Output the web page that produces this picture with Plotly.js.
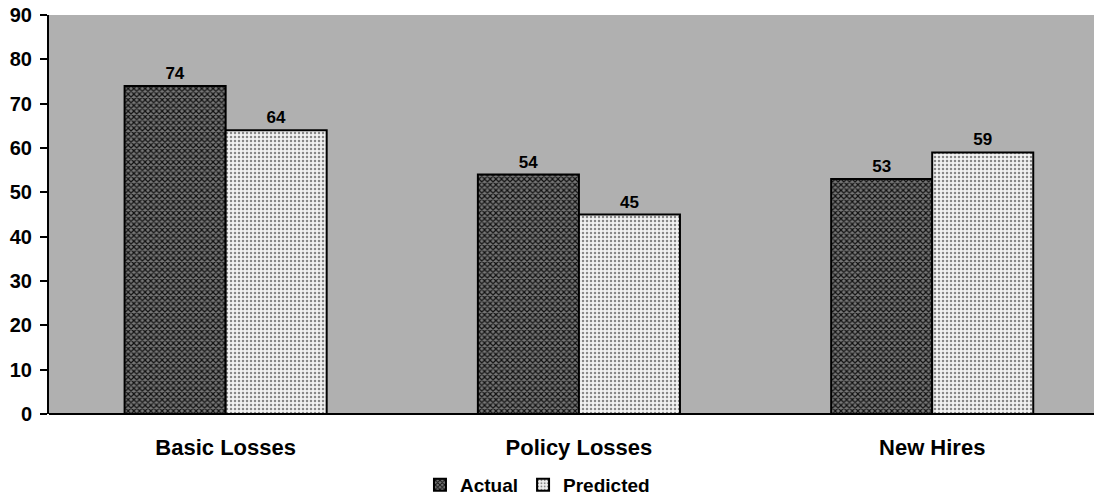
<!DOCTYPE html>
<html><head><meta charset="utf-8">
<script src="https://cdn.plot.ly/plotly-3.0.1.min.js"></script>
<style>html,body{margin:0;padding:0;background:#fff}#chart{width:1094px;height:495px}</style>
</head><body><div id="chart"></div>
<script>
const categories = ["Basic Losses", "Policy Losses", "New Hires"];
const actual = [74, 54, 53];
const predicted = [64, 45, 59];
const yTicks = [0, 10, 20, 30, 40, 50, 60, 70, 80, 90];

const fontFam = "Liberation Sans, Arial, sans-serif";
const traces = [
  {type: "bar", name: "Actual", x: categories, y: actual,
   text: actual.map(String), textposition: "outside", cliponaxis: false,
   textfont: {family: fontFam, size: 17, color: "#000", weight: "bold"},
   marker: {color: "#555", line: {color: "#000", width: 2},
            pattern: {shape: "x", fgcolor: "#111", bgcolor: "#777", size: 4, solidity: 0.5}}},
  {type: "bar", name: "Predicted", x: categories, y: predicted,
   text: predicted.map(String), textposition: "outside", cliponaxis: false,
   textfont: {family: fontFam, size: 17, color: "#000", weight: "bold"},
   marker: {color: "#e8e8e8", line: {color: "#000", width: 2},
            pattern: {shape: ".", fgcolor: "#888", bgcolor: "#f2f2f2", size: 4, solidity: 0.3}}}
];
const layout = {
  width: 1094, height: 495,
  margin: {l: 49, r: 0, t: 15, b: 81, autoexpand: false},
  paper_bgcolor: "#fff", plot_bgcolor: "#b0b0b0",
  barmode: "group", bargap: 0.428, bargroupgap: 0,
  font: {family: fontFam, size: 16, color: "#000", weight: "bold"},
  showlegend: true,
  legend: {orientation: "h", x: 0.355, xanchor: "left", y: -0.178, yanchor: "middle",
           font: {family: fontFam, size: 19, color: "#000", weight: "bold"},
           itemwidth: 30, bgcolor: "rgba(0,0,0,0)"},
  xaxis: {range: [-0.5, 2.458], showgrid: false, showline: false, ticks: "", ticklen: 0, automargin: false,
          ticklabelstandoff: 18, tickfont: {size: 22, weight: "bold"}},
  yaxis: {range: [0, 90], tickvals: yTicks, showgrid: false, showline: true, linecolor: "#000", linewidth: 2,
          ticks: "outside", ticklen: 7, tickwidth: 2, tickcolor: "#000", ticklabelstandoff: 4, automargin: false,
          zeroline: true, zerolinecolor: "#000", zerolinewidth: 2,
          tickfont: {size: 20, weight: "bold"}}
};
Plotly.newPlot("chart", traces, layout, {displayModeBar: false, staticPlot: true});
</script></body></html>
